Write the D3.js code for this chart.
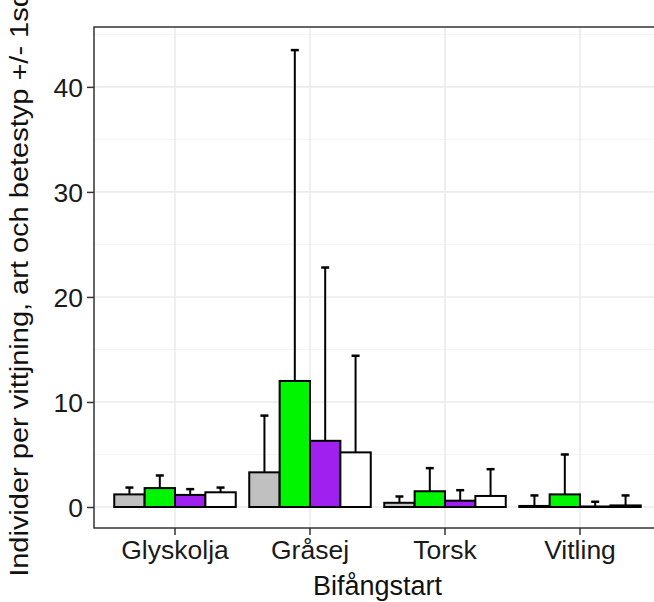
<!DOCTYPE html>
<html>
<head>
<meta charset="utf-8">
<script src="https://cdn.jsdelivr.net/npm/d3@7"></script>
<style>
  body { margin: 0; background: #fff; }
  text { font-family: "Liberation Sans", Arial, sans-serif; }
</style>
</head>
<body>
<svg id="chart" width="654" height="602"></svg>
<script>
// data
const categories = ["Glyskolja", "Gråsej", "Torsk", "Vitling"]
const betestyp = ["typ1", "typ2", "typ3", "typ4"]
const mean_typ1 = [1.2, 3.3, 0.4, 0.1]
const mean_typ2 = [1.8, 12.0, 1.5, 1.2]
const mean_typ3 = [1.15, 6.3, 0.6, 0.05]
const mean_typ4 = [1.4, 5.2, 1.05, 0.15]
const sd_typ1 = [0.65, 5.4, 0.6, 1.0]
const sd_typ2 = [1.2, 31.5, 2.2, 3.8]
const sd_typ3 = [0.55, 16.5, 1.0, 0.45]
const sd_typ4 = [0.45, 9.2, 2.55, 0.95]
const y_ticks = [0, 10, 20, 30, 40]
const y_minor = [5, 15, 25, 35, 45]

const means = [mean_typ1, mean_typ2, mean_typ3, mean_typ4]
const sds = [sd_typ1, sd_typ2, sd_typ3, sd_typ4]
const fills = ["#c0c0c0", "#00f500", "#a020f0", "#ffffff"]

let rows = []
categories.forEach((c, i) => {
    betestyp.forEach((t, j) => {
        rows.push({art: c, typ: t, mean: means[j][i], sd: sds[j][i], fill: fills[j]})
    })
})

const svg = d3.select("#chart")
const pLeft = 94, pRight = 661, pTop = 27, pBottom = 528

const x = d3.scaleBand()
    .domain(categories)
    .range([pLeft, pRight])
    .paddingInner(0)
    .paddingOuter(0.1)
const xs = d3.scaleBand()
    .domain(betestyp)
    .range([x.bandwidth() * 0.05, x.bandwidth() * 0.95])
const y = d3.scaleLinear()
    .domain([-2.0, 45.7])
    .range([pBottom, pTop])

// grid
const grid = svg.append("g")
grid.selectAll(".minor").data(y_minor).enter().append("line")
    .attr("x1", pLeft).attr("x2", pRight)
    .attr("y1", d => y(d)).attr("y2", d => y(d))
    .attr("stroke", "#f4f4f4").attr("stroke-width", 1)
grid.selectAll(".major").data(y_ticks).enter().append("line")
    .attr("x1", pLeft).attr("x2", pRight)
    .attr("y1", d => y(d)).attr("y2", d => y(d))
    .attr("stroke", "#ebebeb").attr("stroke-width", 1.6)
grid.selectAll(".vmajor").data(categories).enter().append("line")
    .attr("x1", d => x(d) + x.bandwidth() / 2).attr("x2", d => x(d) + x.bandwidth() / 2)
    .attr("y1", pTop).attr("y2", pBottom)
    .attr("stroke", "#ebebeb").attr("stroke-width", 1.6)

// bars
const bars = svg.append("g")
bars.selectAll("rect").data(rows).enter().append("rect")
    .attr("x", d => x(d.art) + xs(d.typ))
    .attr("width", xs.bandwidth())
    .attr("y", d => y(d.mean))
    .attr("height", d => y(0) - y(d.mean))
    .attr("fill", d => d.fill)
    .attr("stroke", "#000")
    .attr("stroke-width", 2)

// error bars (upper only)
const err = svg.append("g").attr("stroke", "#000").attr("stroke-width", 2)
err.selectAll(".v").data(rows).enter().append("line")
    .attr("x1", d => x(d.art) + xs(d.typ) + xs.bandwidth() / 2)
    .attr("x2", d => x(d.art) + xs(d.typ) + xs.bandwidth() / 2)
    .attr("y1", d => y(d.mean))
    .attr("y2", d => y(d.mean + d.sd))
err.selectAll(".cap").data(rows).enter().append("line")
    .attr("x1", d => x(d.art) + xs(d.typ) + xs.bandwidth() / 2 - 4)
    .attr("x2", d => x(d.art) + xs(d.typ) + xs.bandwidth() / 2 + 4)
    .attr("y1", d => y(d.mean + d.sd))
    .attr("y2", d => y(d.mean + d.sd))
    .attr("stroke-width", 2.5)

// panel border
svg.append("rect")
    .attr("x", pLeft).attr("y", pTop)
    .attr("width", pRight - pLeft).attr("height", pBottom - pTop)
    .attr("fill", "none").attr("stroke", "#333").attr("stroke-width", 1.5)

// axes
const yAxis = svg.append("g")
    .attr("transform", `translate(${pLeft},0)`)
    .call(d3.axisLeft(y).tickValues(y_ticks).tickSize(7).tickPadding(4))
const xAxis = svg.append("g")
    .attr("transform", `translate(0,${pBottom})`)
    .call(d3.axisBottom(x).tickSize(7).tickPadding(5))
;[xAxis, yAxis].forEach(a => {
    a.select(".domain").remove()
    a.selectAll(".tick line").attr("stroke", "#333").attr("stroke-width", 1.5)
    a.selectAll(".tick text").attr("fill", "#1a1a1a").style("font-size", "26.5px")
        .style("font-family", "'Liberation Sans', Arial, sans-serif")
})
yAxis.selectAll(".tick text").attr("dy", "0.36em")

// titles
svg.append("text")
    .attr("x", (pLeft + pRight) / 2).attr("y", 595)
    .attr("text-anchor", "middle")
    .style("font-size", "27px").attr("fill", "#111")
    .text("Bifångstart")
svg.append("text")
    .attr("transform", `translate(28,284) rotate(-90) scale(1.16,1)`)
    .attr("text-anchor", "middle")
    .style("font-size", "25px").attr("fill", "#111")
    .text("Individer per vittjning, art och betestyp +/- 1sd")
</script>
</body>
</html>
